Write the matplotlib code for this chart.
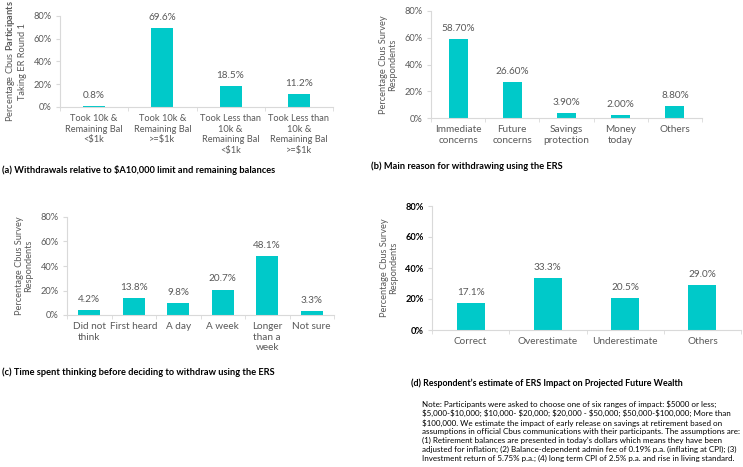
import matplotlib.pyplot as plt
import numpy as np

plt.rcParams['font.family'] = ['Lato', 'DejaVu Sans']
plt.rcParams['mathtext.fontset'] = 'custom'
plt.rcParams['mathtext.bf'] = 'Lato:bold'
plt.rcParams['mathtext.rm'] = 'Lato'

# (a) withdrawals
cats_a = ["Took 10k &\nRemaining Bal\n<$1k", "Took 10k &\nRemaining Bal\n>=$1k",
          "Took Less than\n10k &\nRemaining Bal\n<$1k", "Took Less than\n10k &\nRemaining Bal\n>=$1k"]
vals_a = [0.8, 69.6, 18.5, 11.2]
labs_a = ["0.8%", "69.6%", "18.5%", "11.2%"]

# (b) main reason
cats_b = ["Immediate\nconcerns", "Future\nconcerns", "Savings\nprotection", "Money\ntoday", "Others"]
vals_b = [58.7, 26.6, 3.9, 2.0, 8.8]
labs_b = ["58.70%", "26.60%", "3.90%", "2.00%", "8.80%"]

# (c) time spent thinking
cats_c = ["Did not\nthink", "First heard", "A day", "A week", "Longer\nthan a\nweek", "Not sure"]
vals_c = [4.2, 13.8, 9.8, 20.7, 48.1, 3.3]
labs_c = ["4.2%", "13.8%", "9.8%", "20.7%", "48.1%", "3.3%"]

# (d) estimate of impact
cats_d = ["Correct", "Overestimate", "Underestimate", "Others"]
vals_d = [17.1, 33.3, 20.5, 29.0]
labs_d = ["17.1%", "33.3%", "20.5%", "29.0%"]

yticks = [0, 20, 40, 60, 80]
ytick_labels = ["0%", "20%", "40%", "60%", "80%"]

W, H = 743, 467
teal = '#00C9C9'
grey = '#595959'
line = '#D9D9D9'
fs = 7.2

fig = plt.figure(figsize=(W / 100, H / 100), dpi=100)


def make_ax(l, t, r, b):
    return fig.add_axes([l / W, 1 - b / H, (r - l) / W, (b - t) / H])


def panel(ax, cats, vals, labs, width, ylabel, bold_ticks=False, xfs=fs):
    x = np.arange(len(cats))
    ax.bar(x, vals, width=width, color=teal)
    for xi, v, s in zip(x, vals, labs):
        ax.annotate(s, (xi, v), xytext=(0, 4.5), textcoords='offset points',
                    ha='center', va='bottom', fontsize=fs, color=grey)
    ax.set_xlim(-0.5, len(cats) - 0.5)
    ax.set_ylim(0, 80)
    ax.set_yticks(yticks)
    ax.set_yticklabels(ytick_labels, fontsize=fs - 0.5,
                       color='black' if bold_ticks else grey,
                       fontweight='bold' if bold_ticks else 'normal')
    ax.set_xticks(x)
    ax.set_xticklabels(cats, fontsize=xfs, color=grey, linespacing=1.25)
    ax.set_xticks(np.arange(len(cats) + 1) - 0.5, minor=True)
    ax.tick_params(axis='x', which='major', length=0, pad=5)
    ax.tick_params(axis='x', which='minor', length=3, color=line)
    ax.tick_params(axis='y', length=3, color=line, pad=3)
    for s in ['top', 'right']:
        ax.spines[s].set_visible(False)
    for s in ['left', 'bottom']:
        ax.spines[s].set_color(line)
        ax.spines[s].set_linewidth(0.8)
    ax.set_ylabel(ylabel, fontsize=6.7, color=grey, linespacing=1.1, labelpad=5)


ax_a = make_ax(60, 16, 333, 107)
panel(ax_a, cats_a, vals_a, labs_a, 0.32,
      "Percentage Cbus $\\mathbf{Participants}$\nTaking ER Round 1", xfs=6.7)
ax_b = make_ax(431, 11, 702, 118)
panel(ax_b, cats_b, vals_b, labs_b, 0.35, "Percentage Cbus Survey\nRespondents")
ax_c = make_ax(67, 217, 334, 315)
panel(ax_c, cats_c, vals_c, labs_c, 0.5, "Percentage Cbus Survey\nRespondents")
ax_d = make_ax(432, 206, 741, 330)
panel(ax_d, cats_d, vals_d, labs_d, 0.36, "Percentage Cbus Survey\nRespondents", bold_ticks=True)

fig.text(2 / W, 1 - 170 / H, "(a) Withdrawals relative to $A10,000 limit and remaining balances",
         fontsize=6.7, fontweight='bold', va='center', ha='left')
fig.text(371 / W, 1 - 166 / H, "(b) Main reason for withdrawing using the ERS",
         fontsize=6.7, fontweight='bold', va='center', ha='left')
fig.text(2 / W, 1 - 372 / H, "(c) Time spent thinking before deciding to withdraw using the ERS",
         fontsize=6.7, fontweight='bold', va='center', ha='left')
fig.text(547 / W, 1 - 383 / H, "(d) Respondent\u2019s estimate of ERS Impact on Projected Future Wealth",
         fontsize=6.4, fontweight='bold', va='center', ha='center')

note = ("Note: Participants were asked to choose one of six ranges of impact: \\$5000 or less;\n"
        "\\$5,000-\\$10,000; \\$10,000- \\$20,000; \\$20,000 - \\$50,000; \\$50,000-\\$100,000; More than\n"
        "\\$100,000. We estimate the impact of early release on savings at retirement based on\n"
        "assumptions in official Cbus communications with their participants. The assumptions are:\n"
        "(1) Retirement balances are presented in today\u2019s dollars which means they have been\n"
        "adjusted for inflation; (2) Balance-dependent admin fee of 0.19% p.a. (inflating at CPI); (3)\n"
        "Investment return of 5.75% p.a.; (4) long term CPI of 2.5% p.a. and rise in living standard.")
fig.text(422 / W, 1 - 400 / H, note, fontsize=5.8, va='top', ha='left', linespacing=1.3)

fig.savefig("out.png", dpi=100)
